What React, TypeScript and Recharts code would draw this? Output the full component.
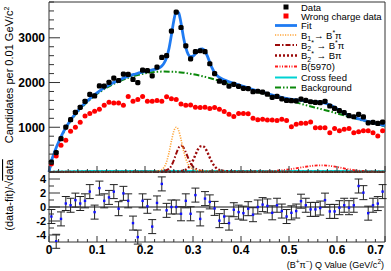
import React from 'react';
import {
  ComposedChart,
  Line,
  Scatter,
  XAxis,
  YAxis,
  ReferenceLine,
  ErrorBar,
  Legend,
} from 'recharts';

// bin centres of the 0.01 GeV/c^2 bins
const binCentres = [
  0.005, 0.015, 0.025, 0.035, 0.045, 0.055, 0.065, 0.075, 0.085, 0.095,
  0.105, 0.115, 0.125, 0.135, 0.145, 0.155, 0.165, 0.175, 0.185, 0.195,
  0.205, 0.215, 0.225, 0.235, 0.245, 0.255, 0.265, 0.275, 0.285, 0.295,
  0.305, 0.315, 0.325, 0.335, 0.345, 0.355, 0.365, 0.375, 0.385, 0.395,
  0.405, 0.415, 0.425, 0.435, 0.445, 0.455, 0.465, 0.475, 0.485, 0.495,
  0.505, 0.515, 0.525, 0.535, 0.545, 0.555, 0.565, 0.575, 0.585, 0.595,
  0.605, 0.615, 0.625, 0.635, 0.645, 0.655, 0.665, 0.675, 0.685, 0.695,
];

const dataCounts = [
  220, 435, 745, 1005, 1170, 1335, 1445, 1580, 1735, 1700,
  1925, 1920, 2005, 2100, 2045, 2190, 2180, 2070, 2000, 2275,
  2265, 2150, 2345, 2560, 2600, 3150, 3575, 3230, 2820, 2530,
  2690, 2710, 2690, 2420, 2200, 2030, 2000, 1920, 1960, 1915,
  1870, 1865, 1795, 1805, 1785, 1740, 1670, 1690, 1635, 1600,
  1595, 1590, 1630, 1600, 1570, 1555, 1550, 1580, 1475, 1420,
  1370, 1325, 1260, 1235, 1290, 1230, 1100, 1110, 1085, 1115,
];

const wrongCharge = [
  180, 360, 600, 710, 910, 1000, 1110, 1250, 1310, 1360,
  1400, 1490, 1560, 1540, 1540, 1490, 1690, 1580, 1620, 1690,
  1580, 1580, 1600, 1580, 1680, 1640, 1620, 1520, 1490, 1500,
  1450, 1440, 1450, 1420, 1440, 1400, 1350, 1290, 1240, 1310,
  1310, 1300, 1200, 1170, 1180, 1165, 1160, 1150, 1180, 1150,
  1010, 1070, 1090, 1090, 1120, 990, 990, 990, 880, 970,
  920, 955, 970, 880, 900, 920, 920, 880, 805, 920,
];

// (data - fit) / sqrt(data)
const pulls = [
  -1.36, -4.9, -1.7, 0.5, 0.25, 0.98, 0.5, 0.88, 2.2, -0.73,
  2.7, 0.88, 1.37, 2.2, -0.24, 1.95, 0.88, -2.3, -4.3, 0.88,
  0.1, -2.8, 0.58, 3.3, -0.48, 0, 0, -0.97, 0.88, -0.97,
  1.7, -1.7, 1.2, 0.73, -0.2, -1.95, -1.36, -2.3, -0.39, -0.73,
  -0.88, -0.24, -1.1, 0, 0.34, 0.15, -0.83, 0.25, -0.58, -1.36,
  -0.83, -0.58, 0.83, 0.25, -0.34, -0.34, -0.15, 0.98, -0.63, -0.63,
  -0.1, 0.25, -0.1, 0.25, 3.0, 2.05, -0.88, 0.25, 0.49, 2.2,
];
const pullError = 1;

// fit curve
const fitX = [
  0, 0.005, 0.01, 0.015, 0.02, 0.03, 0.04, 0.05, 0.06, 0.07, 0.08, 0.09, 0.1,
  0.11, 0.12, 0.13, 0.14, 0.15, 0.16, 0.17, 0.18, 0.19, 0.2, 0.21, 0.22, 0.23,
  0.235, 0.24, 0.245, 0.25, 0.255, 0.26, 0.265, 0.27, 0.275, 0.28, 0.285, 0.29,
  0.295, 0.3, 0.305, 0.31, 0.315, 0.32, 0.325, 0.33, 0.335, 0.34, 0.345, 0.35,
  0.36, 0.37, 0.38, 0.39, 0.4, 0.42, 0.44, 0.46, 0.48, 0.5, 0.52, 0.54, 0.56,
  0.57, 0.58, 0.59, 0.6, 0.61, 0.62, 0.63, 0.64, 0.66, 0.68, 0.7,
];
const fitY = [
  0, 245, 400, 540, 670, 895, 1080, 1235, 1365, 1485, 1590, 1685, 1770,
  1845, 1915, 1975, 2025, 2075, 2120, 2160, 2190, 2220, 2245, 2270, 2295, 2330,
  2370, 2440, 2560, 2760, 3060, 3380, 3590, 3560, 3330, 3020, 2780, 2630,
  2580, 2590, 2640, 2700, 2745, 2750, 2700, 2590, 2450, 2320, 2220, 2155,
  2085, 2040, 2000, 1965, 1930, 1860, 1795, 1735, 1680, 1635, 1605, 1585, 1565,
  1550, 1520, 1475, 1410, 1345, 1290, 1245, 1205, 1145, 1085, 1035,
];

// B1 -> B* pi
const b1X = [0, 0.2, 0.22, 0.23, 0.24, 0.245, 0.25, 0.255, 0.26, 0.265, 0.27, 0.275, 0.28, 0.285, 0.29, 0.3, 0.31, 0.33, 0.36, 0.4, 0.5, 0.7];
const b1Y = [0, 5, 12, 30, 110, 230, 430, 690, 910, 1000, 930, 730, 490, 300, 170, 70, 35, 15, 8, 5, 2, 0];

// B2* -> B* pi
const b2StarX = [0, 0.22, 0.24, 0.25, 0.255, 0.26, 0.265, 0.27, 0.275, 0.28, 0.285, 0.29, 0.295, 0.3, 0.31, 0.32, 0.34, 0.38, 0.5, 0.7];
const b2StarY = [0, 5, 25, 70, 140, 260, 410, 540, 590, 550, 440, 310, 200, 120, 50, 25, 12, 5, 2, 0];

// B2* -> B pi
const b2X = [0, 0.26, 0.28, 0.29, 0.295, 0.3, 0.305, 0.31, 0.315, 0.32, 0.325, 0.33, 0.335, 0.34, 0.345, 0.35, 0.36, 0.38, 0.42, 0.5, 0.7];
const b2Y = [0, 5, 30, 90, 160, 260, 380, 500, 570, 580, 540, 440, 320, 210, 130, 75, 30, 12, 5, 2, 0];

// B(5970)
const b5970X = [0, 0.4, 0.44, 0.47, 0.49, 0.51, 0.53, 0.55, 0.57, 0.59, 0.61, 0.63, 0.65, 0.67, 0.7];
const b5970Y = [0, 3, 10, 25, 45, 75, 110, 140, 150, 130, 90, 50, 25, 12, 4];

// cross feed
const crossX = [0, 0.02, 0.05, 0.1, 0.2, 0.3, 0.4, 0.5, 0.6, 0.7];
const crossY = [0, 10, 18, 22, 25, 25, 24, 22, 20, 18];

// background
const bgX = [
  0, 0.01, 0.02, 0.03, 0.04, 0.05, 0.06, 0.08, 0.1, 0.12, 0.14, 0.16, 0.18, 0.2,
  0.22, 0.24, 0.26, 0.28, 0.3, 0.32, 0.34, 0.36, 0.38, 0.4, 0.42, 0.44, 0.46,
  0.48, 0.5, 0.52, 0.54, 0.56, 0.58, 0.6, 0.62, 0.64, 0.66, 0.68, 0.7,
];
const bgY = [
  0, 380, 650, 875, 1060, 1215, 1345, 1565, 1745, 1885, 1995, 2085, 2155, 2205,
  2235, 2245, 2240, 2220, 2185, 2140, 2085, 2025, 1960, 1895, 1830, 1770, 1710,
  1650, 1595, 1540, 1480, 1425, 1370, 1310, 1250, 1190, 1130, 1075, 1020,
];

const xTicks = [
  0, 0.02, 0.04, 0.06, 0.08, 0.1, 0.12, 0.14, 0.16, 0.18, 0.2, 0.22, 0.24, 0.26,
  0.28, 0.3, 0.32, 0.34, 0.36, 0.38, 0.4, 0.42, 0.44, 0.46, 0.48, 0.5, 0.52, 0.54,
  0.56, 0.58, 0.6, 0.62, 0.64, 0.66, 0.68, 0.7,
];
const countTicks = [
  0, 200, 400, 600, 800, 1000, 1200, 1400, 1600, 1800, 2000, 2200, 2400, 2600,
  2800, 3000, 3200, 3400, 3600, 3800,
];
const pullTicks = [-4, -3, -2, -1, 0, 1, 2, 3, 4];

const FONT = '"Liberation Sans", Arial, Helvetica, sans-serif';
const FRAME = '#333';
const X_MAX = 0.7;

const toPoints = (xs: number[], ys: number[]) => xs.map((x, i) => ({ x, y: ys[i] }));

const dataPoints = toPoints(binCentres, dataCounts);
const wrongPoints = toPoints(binCentres, wrongCharge);
const pullPoints = binCentres.map((x, i) => ({ x, y: pulls[i], err: pullError }));

const isMajorX = (v: number) => Math.abs(v * 10 - Math.round(v * 10)) < 1e-6;

const TopXTick = ({ x, y, payload }: any) => (
  <line x1={x} x2={x} y1={y} y2={y - (isMajorX(payload.value) ? 6 : 3)} stroke={FRAME} />
);

const BottomXTick = ({ x, y, payload }: any) => {
  const v = payload.value;
  const major = isMajorX(v);
  const last = Math.abs(v - X_MAX) < 1e-6;
  return (
    <g>
      <line x1={x} x2={x} y1={y} y2={y - (major ? 6 : 3)} stroke={FRAME} />
      {major && (
        <text
          x={last ? x - 1 : x}
          y={y + 12}
          textAnchor={last ? 'end' : 'middle'}
          fontSize={12}
          fontWeight="bold"
          fontFamily={FONT}
          fill="#000"
        >
          {v === 0 ? '0' : v.toFixed(1)}
        </text>
      )}
    </g>
  );
};

const CountTick = ({ x, y, payload }: any) => {
  const v = payload.value;
  const major = v % 1000 === 0;
  return (
    <g>
      <line x1={x} x2={x + (major ? 11 : 5)} y1={y} y2={y} stroke={FRAME} />
      {major && v > 0 && (
        <text x={x - 4} y={y + 4.5} textAnchor="end" fontSize={12} fontWeight="bold" fontFamily={FONT} fill="#000">
          {v}
        </text>
      )}
    </g>
  );
};

const PullTick = ({ x, y, payload }: any) => {
  const v = payload.value;
  const major = v % 2 === 0;
  return (
    <g>
      <line x1={x} x2={x + (major ? 11 : 5)} y1={y} y2={y} stroke={FRAME} />
      {major && (
        <text x={x - 3} y={y + 4} textAnchor="end" fontSize={11} fontWeight="bold" fontFamily={FONT} fill="#000">
          {v}
        </text>
      )}
    </g>
  );
};

const BlackDot = (p: any) => (
  <rect x={p.cx - 2.6} y={p.cy - 2.6} width={5.2} height={5.2} rx={1.6} fill="#000" />
);
const RedDot = (p: any) => <circle cx={p.cx} cy={p.cy} r={2.5} fill="#ff0000" />;
const BlueDot = (p: any) => (
  <rect x={p.cx - 1.2} y={p.cy - 1.2} width={2.4} height={2.4} fill="#1010ff" />
);

const STYLES = {
  fit: { stroke: '#1f7bf2', strokeWidth: 2.8 },
  b1: { stroke: '#ffa53a', strokeWidth: 1.6, strokeDasharray: '1.2 1.3' },
  b2Star: { stroke: '#9b0a0a', strokeWidth: 2, strokeDasharray: '5 2 1.5 2' },
  b2: { stroke: '#9b0a0a', strokeWidth: 2.4, strokeDasharray: '2 2' },
  b5970: { stroke: '#ff1a1a', strokeWidth: 1.8, strokeDasharray: '3 1.5 1 1.5 1 1.5' },
  cross: { stroke: '#00d2d2', strokeWidth: 2 },
  bg: { stroke: '#0a880a', strokeWidth: 2, strokeDasharray: '6 2 1.5 2 1.5 2' },
};

// legend rows, page y of each row
const legendRowY = [7, 16, 25.5, 35, 45, 55.5, 66.5, 77.5, 87.5];
const LEG_LEFT = 268;

const LegendBox = () => {
  const s1 = 7;
  const s2 = 29;
  const tx = 33;
  const row = (i: number) => legendRowY[i];
  const seg = (i: number, st: any) => (
    <line x1={s1} x2={s2} y1={row(i)} y2={row(i)} {...st} />
  );
  const label = (i: number, content: any) => (
    <text x={tx} y={row(i) + 3.5} fontSize={9.5} fontFamily={FONT} fill="#000">
      {content}
    </text>
  );
  return (
    <svg width={123} height={95} style={{ display: 'block' }}>
      <rect x={15.5} y={row(0) - 2.5} width={5} height={5} fill="#000" />
      {label(0, 'Data')}
      <rect x={15.5} y={row(1) - 2.5} width={5} height={5} fill="#ff0000" />
      {label(1, 'Wrong charge data')}
      {seg(2, STYLES.fit)}
      {label(2, 'Fit')}
      {seg(3, STYLES.b1)}
      {label(3, (
        <>
          B<tspan dy={2.5} fontSize={7}>1</tspan>
          <tspan dy={-2.5}> → B</tspan>
          <tspan dy={-3.5} fontSize={7}>*</tspan>
          <tspan dy={3.5}>π</tspan>
        </>
      ))}
      {seg(4, STYLES.b2Star)}
      {label(4, (
        <>
          B<tspan dy={2.5} fontSize={7}>2</tspan>
          <tspan dy={-6} fontSize={7}>*</tspan>
          <tspan dy={3.5}> → B</tspan>
          <tspan dy={-3.5} fontSize={7}>*</tspan>
          <tspan dy={3.5}>π</tspan>
        </>
      ))}
      {seg(5, STYLES.b2)}
      {label(5, (
        <>
          B<tspan dy={2.5} fontSize={7}>2</tspan>
          <tspan dy={-6} fontSize={7}>*</tspan>
          <tspan dy={3.5}> → Bπ</tspan>
        </>
      ))}
      {seg(6, STYLES.b5970)}
      {label(6, 'B(5970)')}
      {seg(7, STYLES.cross)}
      {label(7, 'Cross feed')}
      {seg(8, STYLES.bg)}
      {label(8, 'Background')}
    </svg>
  );
};

const countTitle = () => (
  <text
    x={13}
    y={75}
    transform="rotate(-90 13 75)"
    textAnchor="middle"
    fontSize={11}
    fontFamily={FONT}
    fill="#000"
  >
    Candidates per 0.01 GeV/c<tspan dy={-4} fontSize={7}>2</tspan>
  </text>
);

// the lower chart's svg starts at page y = 150
const pullTitle = () => (
  <text
    x={13}
    y={45}
    transform="rotate(-90 13 45)"
    textAnchor="middle"
    fontSize={11}
    fontFamily={FONT}
    fill="#000"
  >
    (data-fit)/√<tspan style={{ textDecoration: 'overline' }}>data</tspan>
  </text>
);

const qTitle = () => (
  <text x={384} y={118} textAnchor="end" fontSize={9} fontFamily={FONT} fill="#000">
    (B<tspan dy={-4} fontSize={6.5}>+</tspan>
    <tspan dy={4}>π</tspan>
    <tspan dy={-4} fontSize={6.5}>−</tspan>
    <tspan dy={4}>) Q Value (GeV/c</tspan>
    <tspan dy={-4} fontSize={6.5}>2</tspan>
    <tspan dy={4}>)</tspan>
  </text>
);

export default function App() {
  return (
    <div style={{ position: 'absolute', left: 0, top: 0, width: 391, height: 271, background: '#fff' }}>
      <div style={{ position: 'absolute', left: 0, top: 0 }}>
        <ComposedChart width={391} height={173} margin={{ top: 2, right: 6, bottom: 0, left: 0 }}>
          <XAxis
            type="number"
            dataKey="x"
            domain={[0, X_MAX]}
            ticks={xTicks}
            interval={0}
            height={1}
            tickSize={0}
            tickMargin={0}
            tick={<TopXTick />}
            axisLine={{ stroke: FRAME }}
          />
          <YAxis
            type="number"
            dataKey="y"
            domain={[0, 3800]}
            ticks={countTicks}
            interval={0}
            width={49}
            tickSize={0}
            tickMargin={0}
            tick={<CountTick />}
            axisLine={{ stroke: FRAME }}
            label={countTitle}
          />
          <ReferenceLine y={3800} stroke={FRAME} />
          <ReferenceLine x={X_MAX} stroke={FRAME} />
          <Line data={toPoints(bgX, bgY)} dataKey="y" type="monotone" dot={false} isAnimationActive={false} {...STYLES.bg} />
          <Line data={toPoints(crossX, crossY)} dataKey="y" type="monotone" dot={false} isAnimationActive={false} {...STYLES.cross} />
          <Line data={toPoints(b5970X, b5970Y)} dataKey="y" type="monotone" dot={false} isAnimationActive={false} {...STYLES.b5970} />
          <Line data={toPoints(b2X, b2Y)} dataKey="y" type="monotone" dot={false} isAnimationActive={false} {...STYLES.b2} />
          <Line data={toPoints(b2StarX, b2StarY)} dataKey="y" type="monotone" dot={false} isAnimationActive={false} {...STYLES.b2Star} />
          <Line data={toPoints(b1X, b1Y)} dataKey="y" type="monotone" dot={false} isAnimationActive={false} {...STYLES.b1} />
          <Line data={toPoints(fitX, fitY)} dataKey="y" type="monotone" dot={false} isAnimationActive={false} {...STYLES.fit} />
          <Scatter data={wrongPoints} dataKey="y" shape={RedDot} isAnimationActive={false} />
          <Scatter data={dataPoints} dataKey="y" shape={BlackDot} isAnimationActive={false} />
          <Legend
            layout="vertical"
            align="center"
            verticalAlign="middle"
            content={() => <LegendBox />}
            wrapperStyle={{ left: LEG_LEFT, top: 0, width: 123, height: 95 }}
          />
        </ComposedChart>
      </div>
      <div style={{ position: 'absolute', left: 0, top: 150 }}>
        <ComposedChart width={391} height={121} margin={{ top: 22, right: 6, bottom: 0, left: 0 }}>
          <XAxis
            type="number"
            dataKey="x"
            domain={[0, X_MAX]}
            ticks={xTicks}
            interval={0}
            height={29}
            tickSize={0}
            tickMargin={0}
            tick={<BottomXTick />}
            axisLine={{ stroke: FRAME }}
            label={qTitle}
          />
          <YAxis
            type="number"
            dataKey="y"
            domain={[-5, 5]}
            allowDataOverflow
            ticks={pullTicks}
            interval={0}
            width={49}
            tickSize={0}
            tickMargin={0}
            tick={<PullTick />}
            axisLine={{ stroke: FRAME }}
            label={pullTitle}
          />
          <ReferenceLine y={5} stroke={FRAME} />
          <ReferenceLine x={X_MAX} stroke={FRAME} />
          <ReferenceLine y={0} stroke="#8a8a8a" strokeWidth={2} />
          <Scatter data={pullPoints} dataKey="y" shape={BlueDot} isAnimationActive={false}>
            <ErrorBar dataKey="err" direction="y" width={4} stroke="#222" strokeWidth={1} />
          </Scatter>
        </ComposedChart>
      </div>
    </div>
  );
}
